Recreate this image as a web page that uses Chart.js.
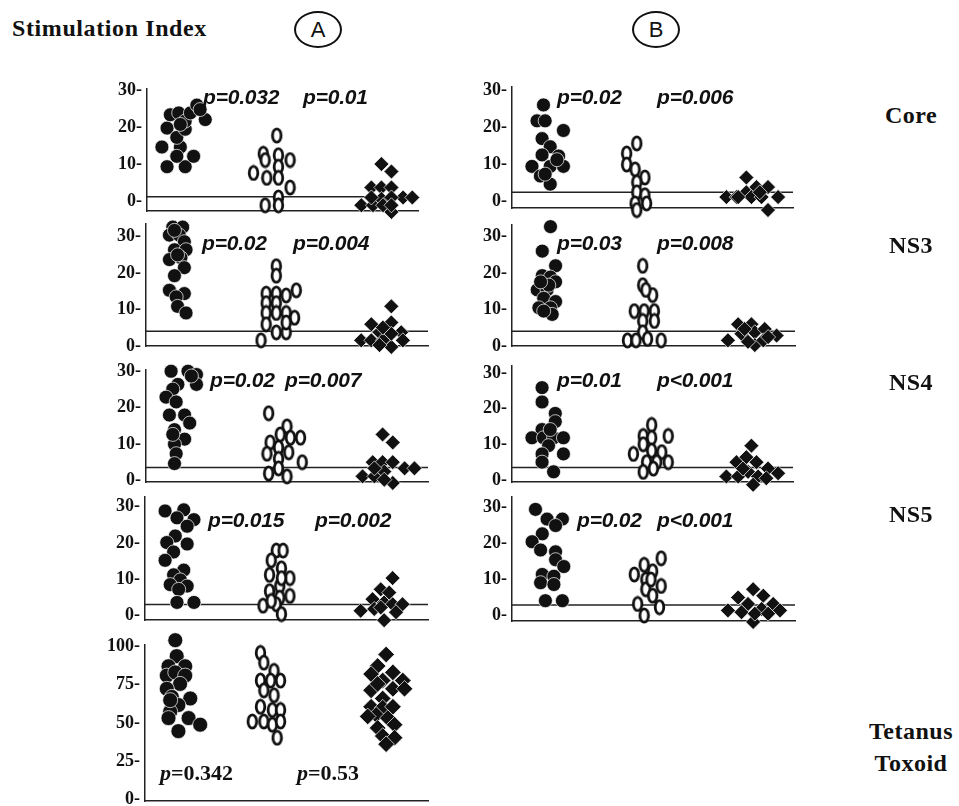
<!DOCTYPE html>
<html>
<head>
<meta charset="utf-8">
<script src="https://cdn.jsdelivr.net/npm/chart.js@4"></script>
<style>
  body { margin: 0; background: #fff; }
  #page { position: relative; width: 959px; height: 806px; overflow: hidden; background: #fff; }
  #page canvas { position: absolute; }
  .txt { position: absolute; white-space: nowrap; color: #111; line-height: 24px; }
  .serif { font-family: "Liberation Serif", "DejaVu Serif", serif; font-weight: bold; }
  .pval { font-family: "Liberation Sans", Arial, sans-serif; font-style: italic; font-weight: bold; font-size: 21px; letter-spacing: -0.2px; }
  .circ { position: absolute; border: 2px solid #111; border-radius: 50%; text-align: center;
          font-family: "Liberation Sans", Arial, sans-serif; font-size: 22px; color: #111; box-sizing: border-box; }
</style>
</head>
<body>
<div id="page">
  <div class="txt serif" style="left:12px;top:16px;font-size:24px;letter-spacing:0.6px;">Stimulation Index</div>
  <div class="circ" style="left:294px;top:11px;width:48px;height:37px;line-height:33px;">A</div>
  <div class="circ" style="left:632px;top:11px;width:48px;height:37px;line-height:33px;">B</div>
</div>
<script>
// tick labels
const ticks30 = [0, 10, 20, 30];
const ticks100 = [0, 25, 50, 75, 100];

// rows (right-hand labels)
const rowNames = ["Core", "NS3", "NS4", "NS5", "Tetanus", "Toxoid"];

// ---- Core, group A ----
const coreA_solidY = [9.4, 9.4, 14.7, 14.7, 12.2, 12.2, 19.8, 17.3, 19.5, 23.4, 23.9, 21.7, 23.9, 26, 22.1, 20.8, 24.8];
const coreA_solidX = [0.74, 1.41, 0.55, 1.23, 1.1, 1.72, 0.74, 1.1, 1.41, 0.86, 1.17, 1.41, 1.6, 1.84, 2.15, 1.23, 1.96];
const coreA_openY = [17.8, 12.9, 12.5, 11.2, 7.7, 6.4, 9.4, 6.4, 3.8, 1.1, -1, -1, 11.2];
const coreA_openX = [4.79, 4.29, 4.85, 5.28, 3.93, 4.42, 4.85, 4.85, 5.28, 4.85, 4.36, 4.85, 4.36];
const coreA_diamY = [10.1, 8.1, 3.8, 3.8, 3.8, 1.1, 1.1, -1, -1, 0.7, -2.8, -1, 1.1, 1.1, -1];
const coreA_diamX = [8.65, 9.02, 8.28, 8.65, 9.02, 9.45, 9.79, 7.91, 8.34, 8.65, 9.02, 8.71, 9.02, 8.28, 9.02];

// ---- Core, group B ----
const coreB_solidY = [26, 21.7, 21.7, 19.1, 16.9, 14.7, 12.5, 12.2, 9.4, 9.4, 9.4, 6.8, 4.6, 7.3, 11.2];
const coreB_solidX = [1.12, 0.89, 1.18, 1.83, 1.07, 1.36, 1.07, 1.66, 0.71, 1.36, 1.83, 1.01, 1.36, 1.18, 1.6];
const coreB_openY = [15.6, 12.9, 9.9, 8.6, 6.4, 5.1, 2.4, 1.6, -0.6, -0.6, -2.4];
const coreB_openX = [4.44, 4.08, 4.08, 4.38, 4.73, 4.44, 4.44, 4.73, 4.38, 4.79, 4.44];
const coreB_diamY = [6.4, 1.1, 1.1, 2.4, 3.8, 3.8, 1.1, -2.4, 1.1, 1.1, 1.1, 2.4];
const coreB_diamX = [8.34, 7.63, 7.99, 8.34, 8.7, 9.11, 9.47, 9.11, 8.52, 8.88, 8.05, 8.82];

// ---- NS3, group A ----
const ns3A_solidY = [32.6, 32.6, 30.4, 30.4, 28.6, 26.4, 26.4, 23.7, 24.2, 21.5, 19.3, 15.3, 14.4, 13.5, 10.9, 9.1, 31.7, 25];
const ns3A_solidX = [0.95, 1.3, 0.83, 1.18, 1.36, 1.01, 1.42, 0.83, 1.24, 1.36, 1.01, 0.83, 1.36, 1.07, 1.12, 1.42, 1.01, 1.12];
const ns3A_openY = [21.9, 19.3, 14.4, 14.4, 15.3, 11.8, 11.8, 9.1, 9.1, 9.1, 7.8, 6, 3.8, 3.8, 1.6, 13.9, 6.5];
const ns3A_openX = [4.62, 4.62, 4.26, 4.62, 5.33, 4.26, 4.62, 4.26, 4.62, 4.97, 5.27, 4.26, 4.62, 4.97, 4.08, 4.97, 4.97];
const ns3A_diamY = [10.9, 6, 6.5, 3.8, 1.6, 1.6, 1.6, 3.8, 1.6, -0.2, 0.3, 3.4, 5.1];
const ns3A_diamX = [8.7, 7.99, 8.7, 8.28, 7.63, 7.99, 8.4, 9.05, 9.11, 8.7, 8.28, 8.7, 8.4];

// ---- NS3, group B ----
const ns3B_solidY = [32.7, 26, 22, 19.3, 18.9, 17.6, 15.4, 15.4, 13.1, 12.2, 10.5, 10.5, 8.7, 9.6, 16.7, 17.6];
const ns3B_solidX = [1.36, 1.07, 1.54, 1.07, 1.36, 1.54, 0.89, 1.24, 1.12, 1.54, 0.95, 1.36, 1.42, 1.12, 1.3, 1.01];
const ns3B_openY = [22, 16.7, 14, 9.6, 9.6, 9.6, 6.9, 6.9, 3.8, 1.6, 1.6, 2, 1.6, 15.4];
const ns3B_openX = [4.62, 4.62, 4.97, 4.32, 4.67, 5.03, 4.62, 5.03, 4.62, 4.08, 4.38, 4.79, 5.27, 4.73];
const ns3B_diamY = [6, 6, 1.6, 3.4, 3.8, 4.7, 2.9, 0.3, 1.6, 1.2, 2.5, 4.7];
const ns3B_diamX = [7.99, 8.46, 7.63, 8.11, 8.58, 8.93, 9.35, 8.58, 8.88, 8.34, 9.05, 8.22];

// ---- NS4, group A ----
const ns4A_solidY = [30, 30, 29.1, 26.4, 26.4, 25.1, 22.9, 21.6, 18, 18, 15.8, 14, 11.4, 10, 7.4, 4.7, 28.7, 12.7];
const ns4A_solidX = [0.89, 1.49, 1.79, 1.79, 1.13, 0.95, 0.71, 1.07, 0.83, 1.37, 1.55, 1.01, 1.37, 1.01, 1.07, 1.01, 1.61, 0.95];
const ns4A_openY = [18.5, 14.9, 12.7, 11.8, 11.8, 10.5, 9.1, 7.4, 7.8, 6, 5.1, 2, 1.2, 3.4];
const ns4A_openX = [4.35, 5, 4.76, 5.12, 5.48, 4.4, 4.7, 4.29, 5.06, 4.7, 5.54, 4.35, 5, 4.7];
const ns4A_diamY = [12.7, 10.5, 5.1, 5.1, 5.1, 1.2, 1.2, 2.5, 3.4, 3.4, -0.6, 0.3, 3.4];
const ns4A_diamX = [8.39, 8.75, 8.04, 8.39, 8.75, 7.68, 8.1, 8.45, 9.17, 9.52, 8.75, 8.45, 8.1];

// ---- NS4, group B ----
const ns4B_solidY = [25.9, 21.9, 18.7, 16.4, 14.2, 11.9, 11.9, 11.9, 11.9, 9.7, 7.4, 7.4, 5.1, 2.4, 14.2];
const ns4B_solidX = [1.07, 1.07, 1.54, 1.54, 1.07, 0.71, 1.12, 1.48, 1.83, 1.3, 1.07, 1.83, 1.07, 1.48, 1.36];
const ns4B_openY = [15.5, 12.4, 12.4, 11.9, 10.1, 7.4, 8.3, 7.9, 5.1, 5.1, 5.1, 2.4, 3.3];
const ns4B_openX = [4.97, 4.67, 5.56, 4.97, 4.67, 4.32, 4.97, 5.33, 4.79, 5.15, 5.56, 4.67, 5.03];
const ns4B_diamY = [9.7, 5.1, 6.5, 5.1, 1.1, 1.1, 2.4, 3.3, 2, 1.1, -1.2, 0.6, 3.3];
const ns4B_diamX = [8.52, 7.99, 8.34, 8.7, 7.63, 8.05, 8.4, 9.11, 9.47, 8.76, 8.58, 9.05, 8.22];

// ---- NS5, group A ----
const ns5A_solidY = [28.8, 29.1, 26.4, 26.9, 24.6, 21.9, 20.1, 19.7, 17.5, 15.2, 12.5, 11.2, 9.8, 8.5, 8.1, 7.2, 3.6, 3.6];
const ns5A_solidX = [0.71, 1.37, 1.73, 1.13, 1.49, 1.07, 0.77, 1.49, 1.01, 0.71, 1.37, 1.01, 1.25, 0.89, 1.49, 1.19, 1.13, 1.73];
const ns5A_openY = [17.9, 17.9, 15.2, 13, 11.2, 10.3, 8.1, 6.7, 5.4, 4.9, 2.7, 3.1, 0.4, 4, 10.3];
const ns5A_openX = [4.64, 4.88, 4.46, 4.82, 4.4, 5.12, 4.76, 4.4, 5.12, 4.76, 4.17, 4.64, 4.82, 4.46, 4.82];
const ns5A_diamY = [10.3, 7.2, 4.5, 3.6, 1.3, 1.8, 3.1, 3.1, -1.3, 0.9, 2.2, 6.3];
const ns5A_diamX = [8.75, 8.33, 8.04, 8.45, 7.62, 8.1, 8.75, 9.1, 8.45, 8.87, 8.33, 8.63];

// ---- NS5, group B ----
const ns5B_solidY = [29.5, 26.8, 26.8, 25, 22.7, 20.5, 18.2, 17.7, 15.5, 13.6, 11.4, 10.9, 9.1, 8.6, 4.1, 4.1];
const ns5B_solidX = [0.83, 1.24, 1.78, 1.54, 1.07, 0.71, 1.01, 1.54, 1.54, 1.83, 1.07, 1.48, 1.01, 1.48, 1.18, 1.78];
const ns5B_openY = [15.9, 14.1, 11.4, 12.3, 10, 8.2, 7.3, 5.5, 3.2, 2.3, 0, 10];
const ns5B_openX = [5.27, 4.67, 4.32, 4.97, 4.73, 5.27, 4.73, 4.97, 4.44, 5.21, 4.67, 4.91];
const ns5B_diamY = [7.3, 5, 5.5, 3.2, 1.4, 0.9, 3.2, 1.4, 1.8, -1.8, 0.5, 0.5];
const ns5B_diamX = [8.52, 7.99, 8.88, 8.34, 7.63, 8.11, 9.23, 9.47, 8.82, 8.52, 8.58, 9.05];

// ---- Tetanus toxoid, group A ----
const ttA_solidY = [104, 93.6, 87, 87, 80.9, 83, 80.9, 75.5, 72.3, 67, 66, 61.7, 57.4, 53.2, 53.2, 48.9, 44.7, 64.9];
const ttA_solidX = [1.07, 1.12, 0.83, 1.42, 0.77, 1.07, 1.42, 1.24, 0.77, 0.95, 1.6, 1.18, 0.89, 0.83, 1.54, 1.95, 1.18, 0.89];
const ttA_openY = [95.7, 89.4, 84, 77.7, 77.7, 77.7, 71.3, 68.1, 60.6, 58.5, 58.5, 51, 51, 48.9, 51, 40.4];
const ttA_openX = [4.08, 4.2, 4.56, 4.08, 4.44, 4.79, 4.2, 4.56, 4.08, 4.5, 4.79, 3.79, 4.2, 4.5, 4.79, 4.67];
const ttA_diamY = [94.7, 87.2, 81.9, 83, 77.7, 77.7, 71.3, 72.3, 72.3, 66, 60.6, 60, 60.6, 55.3, 54.3, 53.2, 48.9, 46.8, 41.5, 40.4, 36.2, 75.5];
const ttA_diamX = [8.52, 8.22, 7.99, 8.76, 8.4, 9.11, 7.99, 8.76, 9.17, 8.4, 7.99, 8.4, 8.76, 8.17, 7.87, 8.58, 8.82, 8.22, 8.4, 8.82, 8.52, 8.22];

// cut-off lines
const cutoffs = { coreA: 1.3, coreB: 2.4, ns3A: 4.1, ns3B: 4.1, ns4A: 3.6, ns4B: 3.6, ns5A: 3.0, ns5B: 2.9, ttA: null };

// y ranges
const yRanges = {
  coreA: [-2.6, 30.4], coreB: [-1.9, 30.9],
  ns3A: [0, 33.5], ns3B: [0, 33.2],
  ns4A: [-0.4, 30.4], ns4B: [-0.5, 32],
  ns5A: [-1.3, 32.7], ns5B: [-1.6, 33],
  ttA: [-1, 101]
};

// p-value texts
const pTexts = {
  coreA: ["p=0.032", "p=0.01"], coreB: ["p=0.02", "p=0.006"],
  ns3A: ["p=0.02", "p=0.004"], ns3B: ["p=0.03", "p=0.008"],
  ns4A: ["p=0.02", "p=0.007"], ns4B: ["p=0.01", "p<0.001"],
  ns5A: ["p=0.015", "p=0.002"], ns5B: ["p=0.02", "p<0.001"],
  ttA: ["=0.342", "=0.53"]
};

// ---- layout (page pixels) ----
const boxes = {
  coreA: { l: 147, r: 418, t: 87, b: 213 }, coreB: { l: 512, r: 793, t: 85, b: 210 },
  ns3A: { l: 146, r: 428, t: 222, b: 348 }, ns3B: { l: 512, r: 795, t: 223, b: 348 },
  ns4A: { l: 146, r: 428, t: 368, b: 484 }, ns4B: { l: 512, r: 793, t: 364, b: 484 },
  ns5A: { l: 145, r: 428, t: 495, b: 622 }, ns5B: { l: 512, r: 795, t: 495, b: 623 },
  ttA: { l: 145, r: 428, t: 643, b: 803 }
};
const pPos = {
  coreA: [[203, 97], [303, 97]], coreB: [[557, 97], [657, 97]],
  ns3A: [[202, 243], [293, 243]], ns3B: [[557, 243], [657, 243]],
  ns4A: [[210, 380], [285, 380]], ns4B: [[557, 380], [657, 380]],
  ns5A: [[208, 520], [315, 520]], ns5B: [[577, 520], [657, 520]],
  ttA: [[160, 773], [297, 773]]
};
const rowY = [115, 245, 382, 514, 731, 763];

const page = document.getElementById('page');

function pts(xs, ys) {
  return ys.map((y, i) => ({ x: xs[i], y: y }));
}

// hollow "O" marker
function ringMarker() {
  const c = document.createElement('canvas');
  c.width = 13; c.height = 17;
  const g = c.getContext('2d');
  g.beginPath();
  g.ellipse(6.5, 8.5, 4.3, 6.6, 0, 0, Math.PI * 2);
  g.fillStyle = '#fff';
  g.fill();
  g.lineWidth = 2.8;
  g.strokeStyle = '#111';
  g.stroke();
  return c;
}
const ring = ringMarker();

function addText(cls, text, x, y, style) {
  const d = document.createElement('div');
  d.className = 'txt ' + cls;
  d.innerHTML = text;
  d.style.left = x + 'px';
  d.style.top = (y - 12) + 'px';
  if (style) d.style.cssText += style;
  page.appendChild(d);
}

function makePanel(key, solid, open, diam, tickVals) {
  const box = boxes[key];
  const cv = document.createElement('canvas');
  cv.width = box.r - box.l + 62;
  cv.height = box.b - box.t + 28;
  cv.style.left = (box.l - 50) + 'px';
  cv.style.top = (box.t - 14) + 'px';
  page.appendChild(cv);

  const big = key === 'ttA';
  const datasets = [
    { data: pts(solid[0], solid[1]), pointStyle: 'circle', pointRadius: big ? 7.5 : 7,
      backgroundColor: '#111', borderColor: '#fff', borderWidth: 0.7, clip: false },
    { data: pts(open[0], open[1]), pointStyle: ring, pointRadius: 7, clip: false },
    { data: pts(diam[0], diam[1]), pointStyle: 'rectRot', pointRadius: big ? 8.3 : 7.5,
      backgroundColor: '#111', borderColor: '#fff', borderWidth: 0.7, clip: false }
  ];
  if (cutoffs[key] != null) {
    datasets.push({ data: [{ x: 0, y: cutoffs[key] }, { x: 10, y: cutoffs[key] }], showLine: true,
      pointRadius: 0, borderColor: '#222', borderWidth: 1.5, clip: false });
  }

  new Chart(cv, {
    type: 'scatter',
    data: { datasets: datasets },
    options: {
      responsive: false,
      animation: false,
      events: [],
      layout: { padding: { top: 14, bottom: 14, left: 0, right: 12 } },
      plugins: { legend: { display: false }, tooltip: { enabled: false } },
      scales: {
        x: {
          type: 'linear', min: 0, max: 10,
          ticks: { display: false },
          grid: { display: false, drawTicks: false },
          border: { display: true, color: '#222', width: 1.5 },
          afterFit: s => { s.height = 0; }
        },
        y: {
          type: 'linear', min: yRanges[key][0], max: yRanges[key][1],
          afterBuildTicks: s => { s.ticks = tickVals.map(v => ({ value: v })); },
          ticks: {
            padding: 5, color: '#111',
            font: { family: 'Liberation Serif', weight: 'bold', size: 18 },
            callback: v => v + '-'
          },
          grid: { display: false, drawTicks: false },
          border: { display: true, color: '#222', width: 1.5 },
          afterFit: s => { s.width = 50; }
        }
      }
    }
  });

  const p = pTexts[key], pos = pPos[key];
  if (key === 'ttA') {
    p.forEach((t, i) => addText('serif', '<i>p</i>' + t, pos[i][0], pos[i][1], 'font-size:22px;'));
  } else {
    p.forEach((t, i) => addText('pval', t, pos[i][0], pos[i][1]));
  }
}

makePanel('coreA', [coreA_solidX, coreA_solidY], [coreA_openX, coreA_openY], [coreA_diamX, coreA_diamY], ticks30);
makePanel('coreB', [coreB_solidX, coreB_solidY], [coreB_openX, coreB_openY], [coreB_diamX, coreB_diamY], ticks30);
makePanel('ns3A', [ns3A_solidX, ns3A_solidY], [ns3A_openX, ns3A_openY], [ns3A_diamX, ns3A_diamY], ticks30);
makePanel('ns3B', [ns3B_solidX, ns3B_solidY], [ns3B_openX, ns3B_openY], [ns3B_diamX, ns3B_diamY], ticks30);
makePanel('ns4A', [ns4A_solidX, ns4A_solidY], [ns4A_openX, ns4A_openY], [ns4A_diamX, ns4A_diamY], ticks30);
makePanel('ns4B', [ns4B_solidX, ns4B_solidY], [ns4B_openX, ns4B_openY], [ns4B_diamX, ns4B_diamY], ticks30);
makePanel('ns5A', [ns5A_solidX, ns5A_solidY], [ns5A_openX, ns5A_openY], [ns5A_diamX, ns5A_diamY], ticks30);
makePanel('ns5B', [ns5B_solidX, ns5B_solidY], [ns5B_openX, ns5B_openY], [ns5B_diamX, ns5B_diamY], ticks30);
makePanel('ttA', [ttA_solidX, ttA_solidY], [ttA_openX, ttA_openY], [ttA_diamX, ttA_diamY], ticks100);

// row labels on the right
rowNames.forEach((name, i) => {
  addText('serif', name, 861, rowY[i], 'width:100px;text-align:center;font-size:24px;letter-spacing:0.5px;');
});
</script>
</body>
</html>
